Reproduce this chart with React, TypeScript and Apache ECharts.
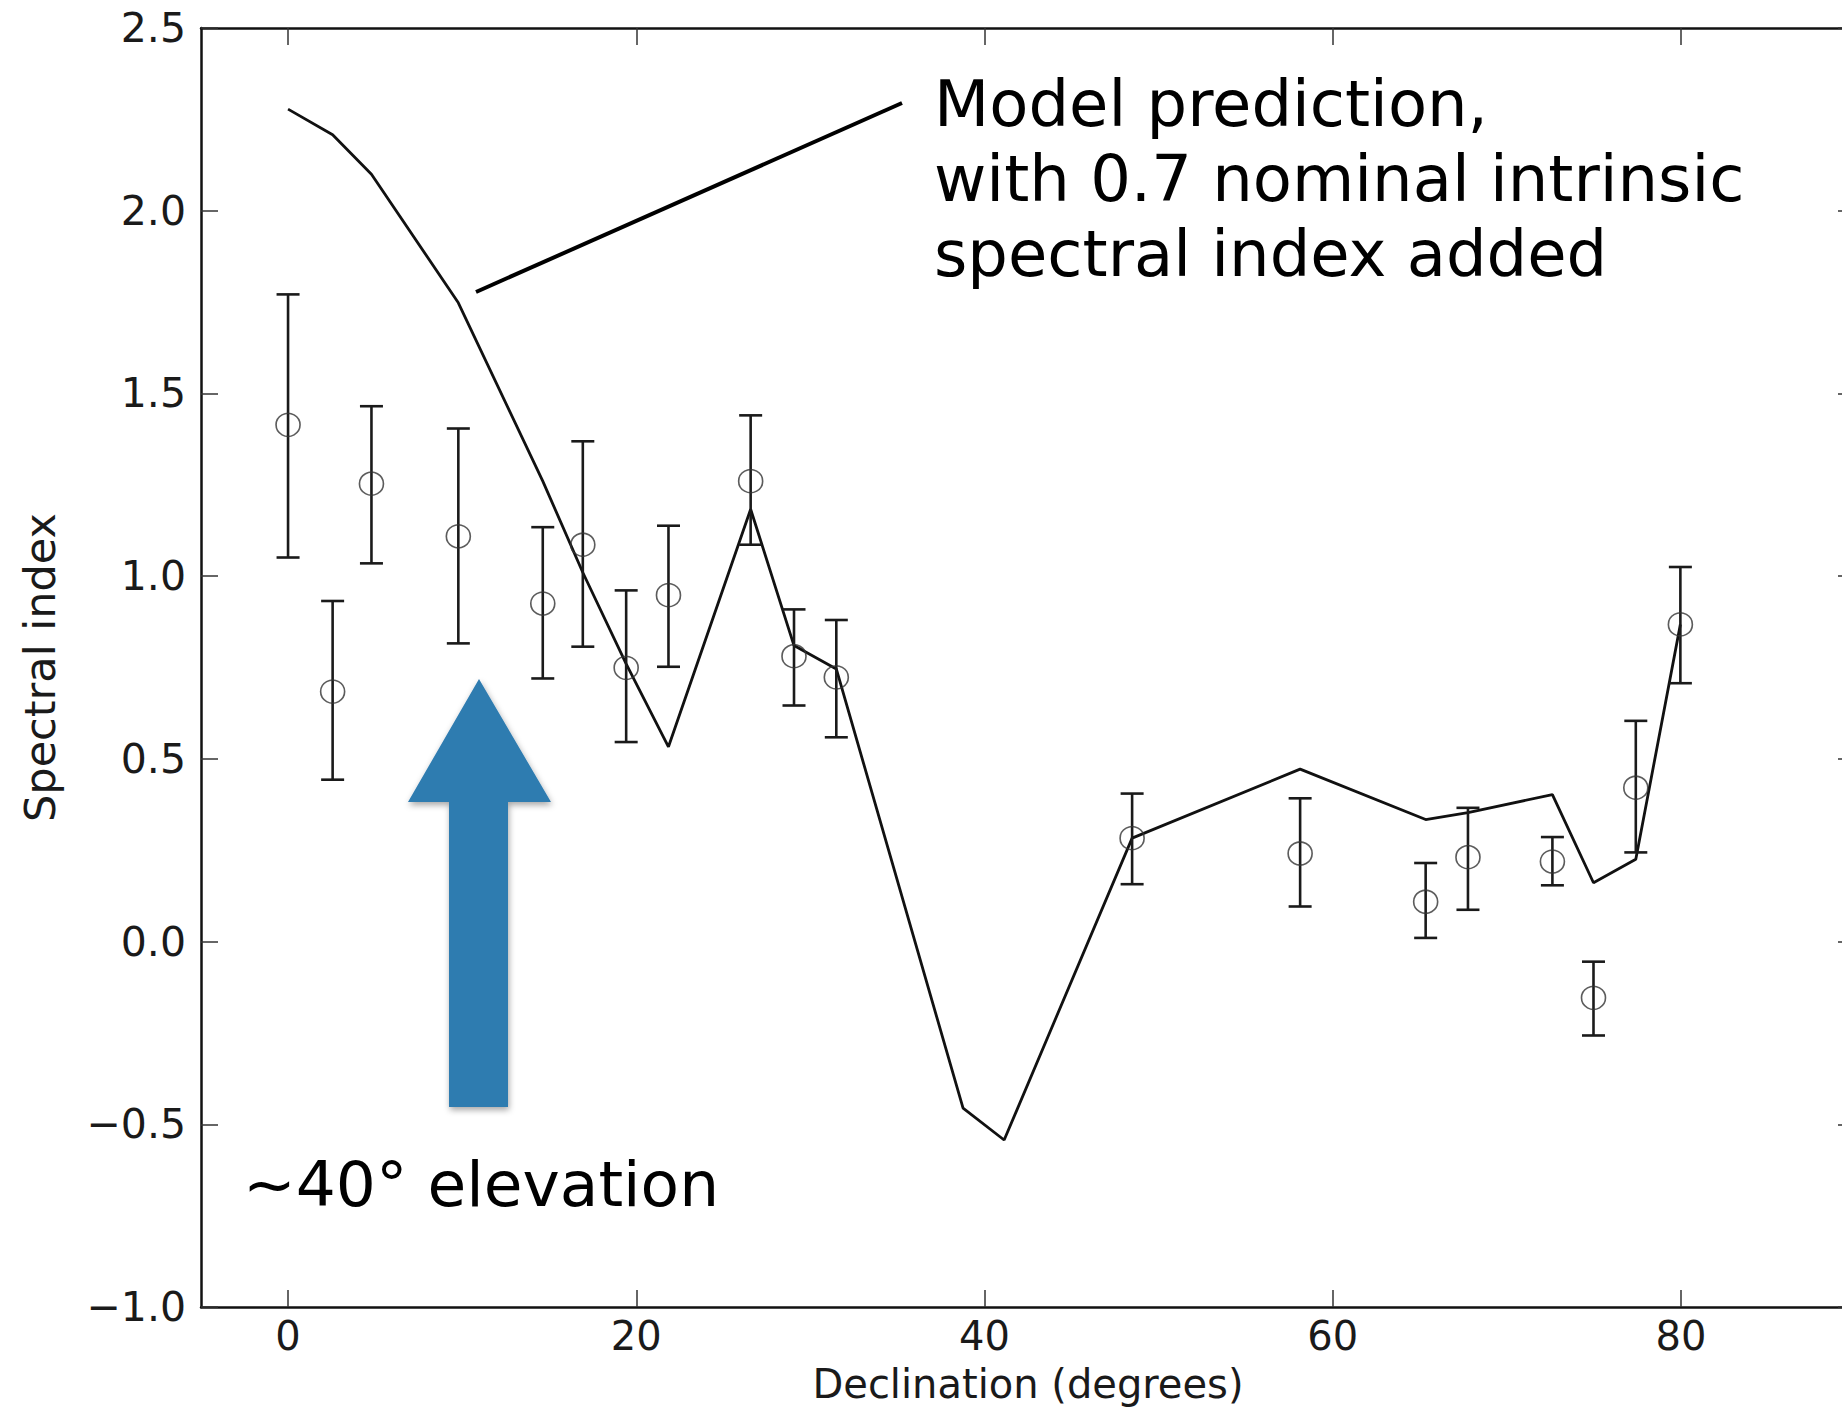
import React, { useEffect, useRef } from "react";
import * as echarts from "echarts";

// Observed sources: declination (deg), spectral index, error bar bounds
const declination = [0, 2.56, 4.79, 9.78, 14.63, 16.93, 19.42, 21.85, 26.57, 29.06, 31.49, 48.48, 58.13, 65.34, 67.77, 72.62, 74.98, 77.41, 79.97];
const spectralIndex = [1.414, 0.684, 1.253, 1.109, 0.925, 1.086, 0.749, 0.948, 1.26, 0.781, 0.723, 0.283, 0.241, 0.109, 0.231, 0.219, -0.154, 0.421, 0.868];
const errLow = [1.051, 0.443, 1.035, 0.816, 0.72, 0.807, 0.546, 0.752, 1.086, 0.646, 0.559, 0.157, 0.096, 0.01, 0.087, 0.154, -0.257, 0.244, 0.707];
const errHigh = [1.771, 0.932, 1.465, 1.404, 1.134, 1.369, 0.961, 1.138, 1.44, 0.909, 0.88, 0.405, 0.392, 0.215, 0.366, 0.286, -0.055, 0.604, 1.025];

// Model prediction curve
const modelDeclination = [0, 2.56, 4.79, 9.78, 14.63, 16.93, 19.42, 21.85, 26.57, 29.06, 31.49, 38.77, 41.13, 48.48, 58.13, 65.34, 67.77, 72.62, 74.98, 77.41, 79.97];
const modelIndex = [2.278, 2.208, 2.1, 1.748, 1.26, 1.01, 0.76, 0.533, 1.183, 0.81, 0.746, -0.456, -0.543, 0.283, 0.472, 0.334, 0.353, 0.402, 0.161, 0.225, 0.868];

// Axis ticks
const xTicks = [0, 20, 40, 60, 80];
const xMin = -5;
const xMax = 90;
const yMin = -1;
const yMax = 2.5;
const yStep = 0.5;

const annotationText = "Model prediction,\nwith 0.7 nominal intrinsic\nspectral index added";
const elevationText = "~40° elevation";
const xName = "Declination (degrees)";
const yName = "Spectral index";

const FONT = "DejaVu Sans";

export default function App() {
  const ref = useRef<HTMLDivElement>(null);

  useEffect(() => {
    if (!ref.current) return;
    const chart = echarts.init(ref.current, null, { renderer: "svg" });

    const spine = { show: true, onZero: false, lineStyle: { color: "#111", width: 2.5 } };
    const tick = { show: true, inside: true, length: 17, lineStyle: { color: "#333", width: 1.5 } };
    const fmtY = (v: number) => (v < 0 ? "\u2212" : "") + Math.abs(v).toFixed(1);

    const errData = declination.map((d, i) => [d, errLow[i], errHigh[i]]);
    const ptData = declination.map((d, i) => [d, spectralIndex[i]]);
    const modelData = modelDeclination.map((d, i) => [d, modelIndex[i]]);

    chart.setOption({
      animation: false,
      backgroundColor: "#ffffff",
      grid: {
        left: 201,
        top: 28,
        width: 1654,
        height: 1279,
        containLabel: false,
        outerBoundsMode: "none",
      },
      xAxis: [
        {
          type: "value",
          min: xMin,
          max: xMax,
          position: "bottom",
          axisLine: spine,
          axisTick: { ...tick, customValues: xTicks },
          axisLabel: {
            customValues: xTicks,
            margin: 9,
            fontFamily: FONT,
            fontSize: 40,
            lineHeight: 40,
            color: "#1a1a1a",
          },
          splitLine: { show: false },
        },
        {
          type: "value",
          min: xMin,
          max: xMax,
          position: "top",
          axisLine: spine,
          axisTick: { ...tick, customValues: xTicks },
          axisLabel: { show: false },
          splitLine: { show: false },
        },
      ],
      yAxis: [
        {
          type: "value",
          min: yMin,
          max: yMax,
          interval: yStep,
          position: "left",
          axisLine: spine,
          axisTick: tick,
          axisLabel: {
            formatter: fmtY,
            margin: 15,
            fontFamily: FONT,
            fontSize: 41,
            color: "#1a1a1a",
          },
          splitLine: { show: false },
          name: yName,
          nameLocation: "middle",
          nameGap: 140,
          nameTextStyle: { fontFamily: FONT, fontSize: 43, color: "#1a1a1a" },
        },
        {
          type: "value",
          min: yMin,
          max: yMax,
          interval: yStep,
          position: "right",
          axisLine: spine,
          axisTick: tick,
          axisLabel: { show: false },
          splitLine: { show: false },
        },
      ],
      series: [
        {
          type: "line",
          name: "Model",
          data: modelData,
          symbol: "none",
          lineStyle: { color: "#111", width: 2.8 },
          z: 3,
        },
        {
          type: "custom",
          name: "Error",
          data: errData,
          encode: { x: 0, y: [1, 2] },
          renderItem: (params: any, api: any) => {
            const x = api.value(0);
            const lo = api.coord([x, api.value(1)]);
            const hi = api.coord([x, api.value(2)]);
            const cap = 11.5;
            const style = { stroke: "#1a1a1a", lineWidth: 2.6 };
            return {
              type: "group",
              children: [
                { type: "line", shape: { x1: lo[0], y1: lo[1], x2: hi[0], y2: hi[1] }, style },
                { type: "line", shape: { x1: lo[0] - cap, y1: lo[1], x2: lo[0] + cap, y2: lo[1] }, style },
                { type: "line", shape: { x1: hi[0] - cap, y1: hi[1], x2: hi[0] + cap, y2: hi[1] }, style },
              ],
            };
          },
          z: 4,
        },
        {
          type: "scatter",
          name: "Observed",
          data: ptData,
          symbol: "circle",
          symbolSize: [24, 23],
          itemStyle: { color: "rgba(0,0,0,0)", borderColor: "#333", borderWidth: 1.6 },
          z: 5,
        },
      ],
      graphic: [
        {
          type: "text",
          x: 1028,
          y: 1404,
          style: {
            text: xName,
            fontFamily: FONT,
            fontSize: 40,
            lineHeight: 40,
            fill: "#1a1a1a",
            align: "center",
            verticalAlign: "bottom",
          },
          z: 10,
        },
        {
          type: "line",
          shape: { x1: 476, y1: 292, x2: 902, y2: 103 },
          style: { stroke: "#000", lineWidth: 4 },
          z: 10,
        },
        {
          type: "text",
          x: 934,
          y: 66,
          style: {
            text: annotationText,
            fontFamily: FONT,
            fontSize: 64,
            lineHeight: 75,
            fill: "#000",
            verticalAlign: "top",
            align: "left",
          },
          z: 10,
        },
        {
          type: "polygon",
          shape: {
            points: [
              [479, 679],
              [551, 802],
              [508, 802],
              [508, 1107],
              [449, 1107],
              [449, 802],
              [408, 802],
            ],
          },
          style: {
            fill: "#2e7bb0",
            shadowBlur: 6,
            shadowColor: "rgba(0,0,0,0.35)",
            shadowOffsetX: 1,
            shadowOffsetY: 3,
          },
          z: 10,
        },
        {
          type: "text",
          x: 243,
          y: 1147,
          style: {
            text: elevationText,
            fontFamily: FONT,
            fontSize: 63,
            lineHeight: 75,
            fill: "#000",
            verticalAlign: "top",
            align: "left",
          },
          z: 10,
        },
      ],
    });

    return () => chart.dispose();
  }, []);

  return (
    <div
      ref={ref}
      style={{ position: "absolute", left: 0, top: 0, width: 1842, height: 1409, background: "#fff" }}
    />
  );
}
